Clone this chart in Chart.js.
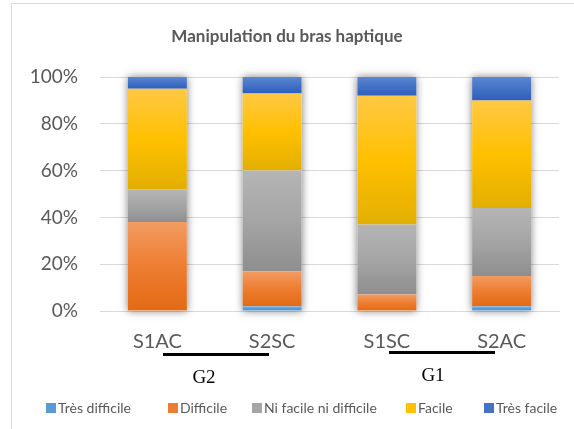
<!DOCTYPE html>
<html><head><meta charset="utf-8">
<script src="https://cdn.jsdelivr.net/npm/chart.js@4.4.1/dist/chart.umd.min.js"></script>
<style>
html,body{margin:0;padding:0;background:#fff;}
#wrap{position:relative;width:574px;height:429px;overflow:hidden;background:#fff;}
#frame{position:absolute;left:11px;top:3px;width:620px;height:480px;border:1px solid #d9d9d9;box-sizing:border-box;}
#c{position:absolute;left:0;top:0;}
#title{position:absolute;left:0;top:26px;width:574px;text-align:center;font:bold 17px Lato,sans-serif;line-height:20px;color:#595959;}
.grp{position:absolute;font:19px "Liberation Serif","Times New Roman",serif;line-height:19px;color:#000;width:60px;text-align:center;}
.gline{position:absolute;height:3px;background:#000;}
.lg{position:absolute;top:400px;font:14px Lato,sans-serif;line-height:16px;color:#595959;white-space:nowrap;}
.lg i{position:absolute;left:0;top:3px;width:10px;height:10px;}
.lg span{position:absolute;left:12px;top:0;}
</style></head>
<body><div id="wrap">
<div id="frame"></div>
<canvas id="c" width="574" height="429"></canvas>
<div id="title">Manipulation du bras haptique</div>
<div id="groups"></div>
<div id="legend"></div>
</div>
<script>
const categories = ['S1AC', 'S2SC', 'S1SC', 'S2AC'];
const seriesNames = ['Très difficile', 'Difficile', 'Ni facile ni difficile', 'Facile', 'Très facile'];
const tresDifficile = [0, 2, 0, 2];
const difficile = [38, 15, 7, 13];
const niFacileNiDifficile = [14, 43, 30, 29];
const facile = [43, 33, 55, 46];
const tresFacile = [5, 7, 8, 10];
const yTickLabels = ['0%', '20%', '40%', '60%', '80%', '100%'];
const groupLabels = ['G2', 'G1'];

const seriesValues = [tresDifficile, difficile, niFacileNiDifficile, facile, tresFacile];
const palette = [
  {base:'#5B9BD5', top:'#7DB0E2', bot:'#4A89C8'},
  {base:'#ED7D31', top:'#F29C62', bot:'#E26A14'},
  {base:'#A5A5A5', top:'#B5B5B5', bot:'#8E8E8E'},
  {base:'#FFC000', top:'#FFC845', bot:'#E2AF00'},
  {base:'#4472C4', top:'#5C86D4', bot:'#2C5EBE'}
];

function gradFor(di){
  return function(ctx){
    const p = palette[di];
    if (ctx.type !== 'data') return p.base;
    const chart = ctx.chart, ys = chart.scales.y;
    if (!ys) return p.base;
    let below = 0;
    for (let k = 0; k < di; k++) below += seriesValues[k][ctx.dataIndex];
    const val = seriesValues[di][ctx.dataIndex];
    const t = ys.getPixelForValue(below + val), b = ys.getPixelForValue(below);
    if (!isFinite(t) || !isFinite(b) || Math.abs(b - t) < 1) return p.base;
    const g = chart.ctx.createLinearGradient(0, t, 0, b);
    g.addColorStop(0, p.top); g.addColorStop(0.5, p.base); g.addColorStop(1, p.bot);
    return g;
  };
}

const shadowPlugin = {
  id: 'barShadow',
  beforeDatasetsDraw(chart) {
    const meta = chart.getDatasetMeta(0), ys = chart.scales.y, c = chart.ctx;
    const top = ys.getPixelForValue(100), bot = ys.getPixelForValue(0);
    meta.data.forEach(el => {
      const w = el.width, x = el.x - w / 2;
      c.save();
      c.shadowColor = 'rgba(0,0,0,0.5)';
      c.shadowBlur = 8;
      c.fillStyle = '#ffffff';
      c.fillRect(x, top, w, bot - top);
      c.restore();
    });
  }
};

new Chart(document.getElementById('c'), {
  type: 'bar',
  data: {
    labels: categories,
    datasets: seriesNames.map((n, i) => ({
      label: n,
      data: seriesValues[i],
      backgroundColor: gradFor(i),
      borderWidth: 0,
      barPercentage: 1,
      categoryPercentage: 0.514
    }))
  },
  options: {
    responsive: false,
    animation: false,
    layout: {padding: {left: 0, top: 77, right: 15, bottom: 0}},
    plugins: {legend: {display: false}, title: {display: false}, tooltip: {enabled: false}},
    scales: {
      x: {
        stacked: true,
        grid: {display: false, drawTicks: false},
        border: {display: true, color: '#d9d9d9', width: 1},
        ticks: {color: '#595959', font: {family: 'Lato', size: 20}, padding: 19, maxRotation: 0},
        afterFit(s) { s.height = 118; }
      },
      y: {
        stacked: true,
        min: 0, max: 100,
        grid: {color: '#d9d9d9', lineWidth: 1, drawTicks: false},
        border: {display: false},
        ticks: {
          stepSize: 20,
          color: '#595959',
          font: {family: 'Lato', size: 19},
          padding: 22,
          callback: (v) => yTickLabels[Math.round(v / 20)]
        },
        afterFit(s) { s.width = 100; }
      }
    }
  },
  plugins: [shadowPlugin]
});

// group annotations
const groups = document.getElementById('groups');
const groupPos = [{cx: 204, top: 367, l: 163, w: 106, lt: 353}, {cx: 433, top: 365, l: 389, w: 106, lt: 351}];
groupLabels.forEach((g, i) => {
  const p = groupPos[i];
  const d = document.createElement('div'); d.className = 'grp'; d.textContent = g;
  d.style.left = (p.cx - 30) + 'px'; d.style.top = p.top + 'px'; groups.appendChild(d);
  const ln = document.createElement('div'); ln.className = 'gline';
  ln.style.left = p.l + 'px'; ln.style.width = p.w + 'px'; ln.style.top = p.lt + 'px'; groups.appendChild(ln);
});

// legend
const legend = document.getElementById('legend');
const legX = [46, 168, 252, 406, 484];
seriesNames.forEach((n, i) => {
  const d = document.createElement('div'); d.className = 'lg'; d.style.left = legX[i] + 'px';
  const b = document.createElement('i'); b.style.background = palette[i].base;
  const s = document.createElement('span'); s.textContent = n;
  d.appendChild(b); d.appendChild(s); legend.appendChild(d);
});
</script>
</body></html>
